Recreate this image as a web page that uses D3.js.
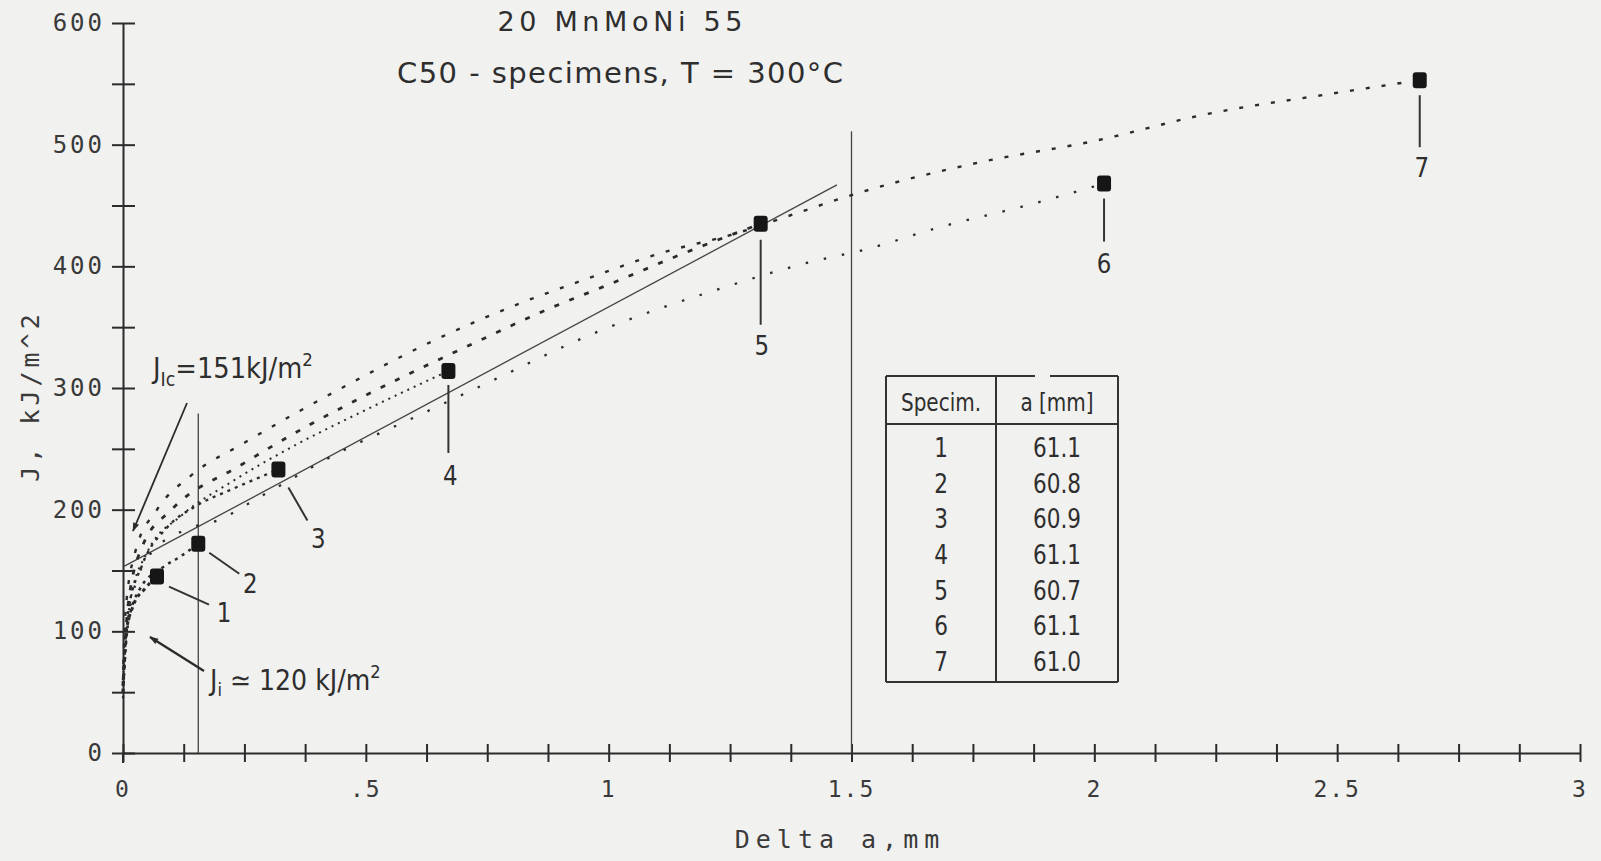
<!DOCTYPE html>
<html>
<head>
<meta charset="utf-8">
<script src="https://cdn.jsdelivr.net/npm/d3@7/dist/d3.min.js"></script>
<style>
  html, body { margin: 0; padding: 0; background: #f1f1f0; }
  svg { display: block; }
  .tick-lbl { font-family: "DejaVu Sans Mono", monospace; fill: #3a3a3a; }
  .hand { font-family: "DejaVu Sans", sans-serif; fill: #2e2e2e; }
</style>
</head>
<body>
<div id="chart"></div>
<script>
// specimen end points (Delta a in mm, J in kJ/m^2)
const specimenIds = ["1", "2", "3", "4", "5", "6", "7"];
const deltaA = [0.07, 0.155, 0.32, 0.67, 1.313, 2.02, 2.67];
const jValues = [145, 172, 233, 314, 435, 468, 553];
const cracks = ["61.1", "60.8", "60.9", "61.1", "60.7", "61.1", "61.0"];

// axis ticks
const xTickValues = [0, 0.5, 1, 1.5, 2, 2.5, 3];
const xTickLabels = ["0", ".5", "1", "1.5", "2", "2.5", "3"];
const yTickValues = [0, 100, 200, 300, 400, 500, 600];
const yTickLabels = ["0", "100", "200", "300", "400", "500", "600"];

// R-curves, one per specimen
const curve1 = [[0, 50], [0.005, 95], [0.02, 120], [0.045, 135], [0.07, 145]];
const curve2 = [[0, 50], [0.01, 105], [0.035, 135], [0.08, 152], [0.12, 162], [0.155, 172]];
const curve3 = [[0, 55], [0.01, 115], [0.04, 155], [0.09, 185], [0.15, 203], [0.22, 216], [0.32, 233]];
const curve4 = [[0, 60], [0.015, 125], [0.05, 165], [0.12, 195], [0.22, 222], [0.35, 252], [0.5, 282], [0.67, 314]];
const curve5 = [[0, 55], [0.01, 120], [0.04, 170], [0.1, 200], [0.24, 236], [0.39, 271], [0.51, 296],
  [0.75, 342], [0.87, 364], [1.0, 385], [1.15, 410], [1.313, 435]];
const curve6 = [[0, 45], [0.01, 110], [0.05, 160], [0.12, 182], [0.2, 192], [0.28, 210], [0.455, 249],
  [0.59, 274], [0.76, 306], [0.97, 345], [1.24, 383], [1.41, 403], [1.53, 414], [1.68, 432], [1.86, 450], [2.02, 468]];
const curve7 = [[0, 60], [0.005, 115], [0.025, 165], [0.07, 200], [0.14, 228], [0.25, 255], [0.455, 301],
  [0.64, 339], [0.82, 370], [0.95, 389], [1.1, 410], [1.27, 428], [1.36, 440], [1.52, 461], [1.77, 486],
  [2.0, 503], [2.23, 525], [2.49, 542], [2.67, 553]];

// regression line and limit lines
const fitLine = [[0, 153], [1.47, 467]];
const limitDa = [0.155, 1.5];
const limitTopJ = [279, 511];

const W = 1601, H = 861;
const x = d3.scaleLinear().domain([0, 3]).range([123, 1580]);
const y = d3.scaleLinear().domain([0, 600]).range([753, 23]);

const svg = d3.select("#chart").append("svg")
  .attr("width", W).attr("height", H);

svg.append("rect").attr("width", W).attr("height", H).attr("fill", "#f1f1f0");

const ink = "#2b2b2b";

// arrow head
svg.append("defs").append("marker")
  .attr("id", "head")
  .attr("viewBox", "0 0 10 10")
  .attr("refX", 9).attr("refY", 5)
  .attr("markerWidth", 18).attr("markerHeight", 9)
  .attr("markerUnits", "userSpaceOnUse")
  .attr("orient", "auto")
  .append("path").attr("d", "M0,1.5 L10,5 L0,8.5 Z").attr("fill", ink);

// ---- axes ----
const xAxis = d3.axisBottom(x)
  .tickValues(d3.range(0, 3.0001, 0.125))
  .tickSizeOuter(0)
  .tickFormat("");
const gx = svg.append("g").attr("transform", `translate(0,${y(0)})`).call(xAxis);
gx.select(".domain").attr("stroke", ink).attr("stroke-width", 2);
gx.selectAll(".tick line").attr("y1", -9).attr("y2", 9).attr("stroke", ink).attr("stroke-width", 2);

const yAxis = d3.axisLeft(y)
  .tickValues(d3.range(0, 600.001, 50))
  .tickSizeOuter(0)
  .tickFormat("");
const gy = svg.append("g").attr("transform", `translate(${x(0)},0)`).call(yAxis);
gy.select(".domain").attr("stroke", ink).attr("stroke-width", 2);
gy.selectAll(".tick line").attr("x1", -11).attr("x2", 12).attr("stroke", ink).attr("stroke-width", 2);
// y axis runs a little below the x axis
svg.append("line").attr("x1", x(0)).attr("x2", x(0)).attr("y1", y(0)).attr("y2", y(0) + 10)
  .attr("stroke", ink).attr("stroke-width", 2);

svg.selectAll(".xlbl").data(xTickValues).enter().append("text")
  .attr("class", "tick-lbl")
  .attr("x", d => x(d)).attr("y", y(0) + 44)
  .attr("text-anchor", "middle")
  .attr("font-size", 23).attr("letter-spacing", 2)
  .text((d, i) => xTickLabels[i]);

svg.selectAll(".ylbl").data(yTickValues).enter().append("text")
  .attr("class", "tick-lbl")
  .attr("x", x(0) - 18).attr("y", d => y(d) + 8)
  .attr("text-anchor", "end")
  .attr("font-size", 24).attr("letter-spacing", 3)
  .text((d, i) => yTickLabels[i]);

svg.append("text").attr("class", "tick-lbl")
  .attr("x", 840).attr("y", 848)
  .attr("text-anchor", "middle")
  .attr("font-size", 25).attr("letter-spacing", 6)
  .text("Delta a,mm");

svg.append("text").attr("class", "tick-lbl")
  .attr("transform", "translate(39,396) rotate(-90)")
  .attr("text-anchor", "middle")
  .attr("font-size", 25).attr("letter-spacing", 4)
  .text("J, kJ/m^2");

// ---- title ----
svg.append("text").attr("class", "hand")
  .attr("x", 620).attr("y", 31)
  .attr("text-anchor", "middle")
  .attr("font-family", "Liberation Sans, Arial, sans-serif")
  .attr("font-size", 27).attr("fill", "#3c3c3c")
  .attr("textLength", 245).attr("lengthAdjust", "spacing")
  .text("20 MnMoNi 55");
svg.append("text").attr("class", "hand")
  .attr("x", 620).attr("y", 83)
  .attr("text-anchor", "middle")
  .attr("font-family", "Liberation Sans, Arial, sans-serif")
  .attr("font-size", 29).attr("fill", "#3c3c3c")
  .attr("textLength", 446).attr("lengthAdjust", "spacing")
  .text("C50 - specimens, T = 300°C");

// ---- limit lines and fit line ----
svg.selectAll(".limit").data(limitDa).enter().append("line")
  .attr("x1", d => x(d)).attr("x2", d => x(d))
  .attr("y1", y(0)).attr("y2", (d, i) => y(limitTopJ[i]))
  .attr("stroke", "#444").attr("stroke-width", 1.3);

const line = d3.line().x(d => x(d[0])).y(d => y(d[1]));
svg.append("path").attr("d", line(fitLine))
  .attr("fill", "none").attr("stroke", "#444").attr("stroke-width", 1.3);

// ---- dotted R-curves ----
const curveLine = d3.line().x(d => x(d[0])).y(d => y(d[1])).curve(d3.curveMonotoneX);
const curves = [
  { pts: curve1, dash: "3.5,4", w: 3 },
  { pts: curve2, dash: "3,5", w: 2.6 },
  { pts: curve3, dash: "3,5", w: 2.4 },
  { pts: curve4, dash: "2,5", w: 2 },
  { pts: curve5, dash: "5,11", w: 2.8 },
  { pts: curve6, dash: "2.5,16", w: 2.3 },
  { pts: curve7, dash: "4,12", w: 2.4 }
];
svg.selectAll(".rc").data(curves).enter().append("path")
  .attr("d", d => curveLine(d.pts))
  .attr("fill", "none")
  .attr("stroke", ink)
  .attr("stroke-width", d => d.w)
  .attr("stroke-dasharray", d => d.dash);

// ---- specimen points with leader lines ----
const pts = deltaA.map((d, i) => ({ id: specimenIds[i], da: d, j: jValues[i] }));
// leader offsets in px: [x1, y1, x2, y2, labelX, labelY]
const leaders = [
  [12, 10, 52, 28, 67, 45],
  [11, 9, 41, 30, 52, 49],
  [10, 18, 29, 51, 40, 78],
  [0, 14, 0, 82, 2, 114],
  [0, 16, 0, 101, 1, 131],
  [0, 15, 0, 58, 0, 89],
  [0, 15, 0, 67, 2, 97]
];
svg.selectAll(".lead").data(pts).enter().append("line")
  .attr("x1", (d, i) => x(d.da) + leaders[i][0])
  .attr("y1", (d, i) => y(d.j) + leaders[i][1])
  .attr("x2", (d, i) => x(d.da) + leaders[i][2])
  .attr("y2", (d, i) => y(d.j) + leaders[i][3])
  .attr("stroke", "#333").attr("stroke-width", 2);

svg.selectAll(".pt").data(pts).enter().append("rect")
  .attr("x", d => x(d.da) - 7).attr("y", d => y(d.j) - 8)
  .attr("width", 14).attr("height", 16).attr("rx", 3)
  .attr("fill", "#161616");

svg.selectAll(".plbl").data(pts).enter().append("text")
  .attr("class", "hand")
  .attr("transform", (d, i) => `translate(${x(d.da) + leaders[i][4]},${y(d.j) + leaders[i][5]}) scale(0.85,1)`)
  .attr("text-anchor", "middle")
  .attr("font-size", 27)
  .text(d => d.id);

// ---- J annotations ----
svg.append("line")
  .attr("x1", 187).attr("y1", 403).attr("x2", 133).attr("y2", 531)
  .attr("stroke", ink).attr("stroke-width", 1.8)
  .attr("marker-end", "url(#head)");
const jic = svg.append("text").attr("class", "hand")
  .attr("transform", "translate(153,378) scale(0.92,1)")
  .attr("font-size", 28);
jic.append("tspan").text("J");
jic.append("tspan").attr("font-size", 19).attr("dy", 8).text("Ic");
jic.append("tspan").attr("dy", -8).text("=151kJ/m");
jic.append("tspan").attr("font-size", 18).attr("dy", -12).text("2");

svg.append("line")
  .attr("x1", 204).attr("y1", 671).attr("x2", 150).attr("y2", 637)
  .attr("stroke", ink).attr("stroke-width", 2.4)
  .attr("marker-end", "url(#head)");
const ji = svg.append("text").attr("class", "hand")
  .attr("transform", "translate(210,690) scale(0.9,1)")
  .attr("font-size", 28);
ji.append("tspan").text("J");
ji.append("tspan").attr("font-size", 18).attr("dy", 6).text("i");
ji.append("tspan").attr("dy", -6).text(" \u2243 120 kJ/m");
ji.append("tspan").attr("font-size", 18).attr("dy", -12).text("2");

// ---- table of crack lengths ----
const tbl = { left: 886, mid: 996, right: 1118, top: 376, head: 424, bottom: 682 };
const tg = svg.append("g");
tg.append("line").attr("x1", tbl.left).attr("x2", 1035).attr("y1", tbl.top).attr("y2", tbl.top);
tg.append("line").attr("x1", 1050).attr("x2", tbl.right).attr("y1", tbl.top).attr("y2", tbl.top);
tg.append("line").attr("x1", tbl.left).attr("x2", tbl.right).attr("y1", tbl.bottom).attr("y2", tbl.bottom);
tg.append("line").attr("x1", tbl.left).attr("x2", tbl.right).attr("y1", tbl.head).attr("y2", tbl.head);
[tbl.left, tbl.mid, tbl.right].forEach(xx =>
  tg.append("line").attr("x1", xx).attr("x2", xx).attr("y1", tbl.top).attr("y2", tbl.bottom));
tg.selectAll("line").attr("stroke", "#333").attr("stroke-width", 2);

const rowY = d3.scaleLinear().domain([0, 6]).range([447, 661]);
tg.append("text").attr("class", "hand")
  .attr("transform", `translate(${(tbl.left + tbl.mid) / 2},411) scale(0.8,1)`)
  .attr("text-anchor", "middle").attr("font-size", 25).text("Specim.");
tg.append("text").attr("class", "hand")
  .attr("transform", `translate(${(tbl.mid + tbl.right) / 2},411) scale(0.8,1)`)
  .attr("text-anchor", "middle").attr("font-size", 25).text("a [mm]");
tg.selectAll(".rid").data(specimenIds).enter().append("text")
  .attr("class", "hand")
  .attr("transform", (d, i) => `translate(${(tbl.left + tbl.mid) / 2},${rowY(i) + 10}) scale(0.8,1)`)
  .attr("text-anchor", "middle").attr("font-size", 27).text(d => d);
tg.selectAll(".rva").data(cracks).enter().append("text")
  .attr("class", "hand")
  .attr("transform", (d, i) => `translate(${(tbl.mid + tbl.right) / 2},${rowY(i) + 10}) scale(0.8,1)`)
  .attr("text-anchor", "middle").attr("font-size", 27).text(d => d);
</script>
</body>
</html>
